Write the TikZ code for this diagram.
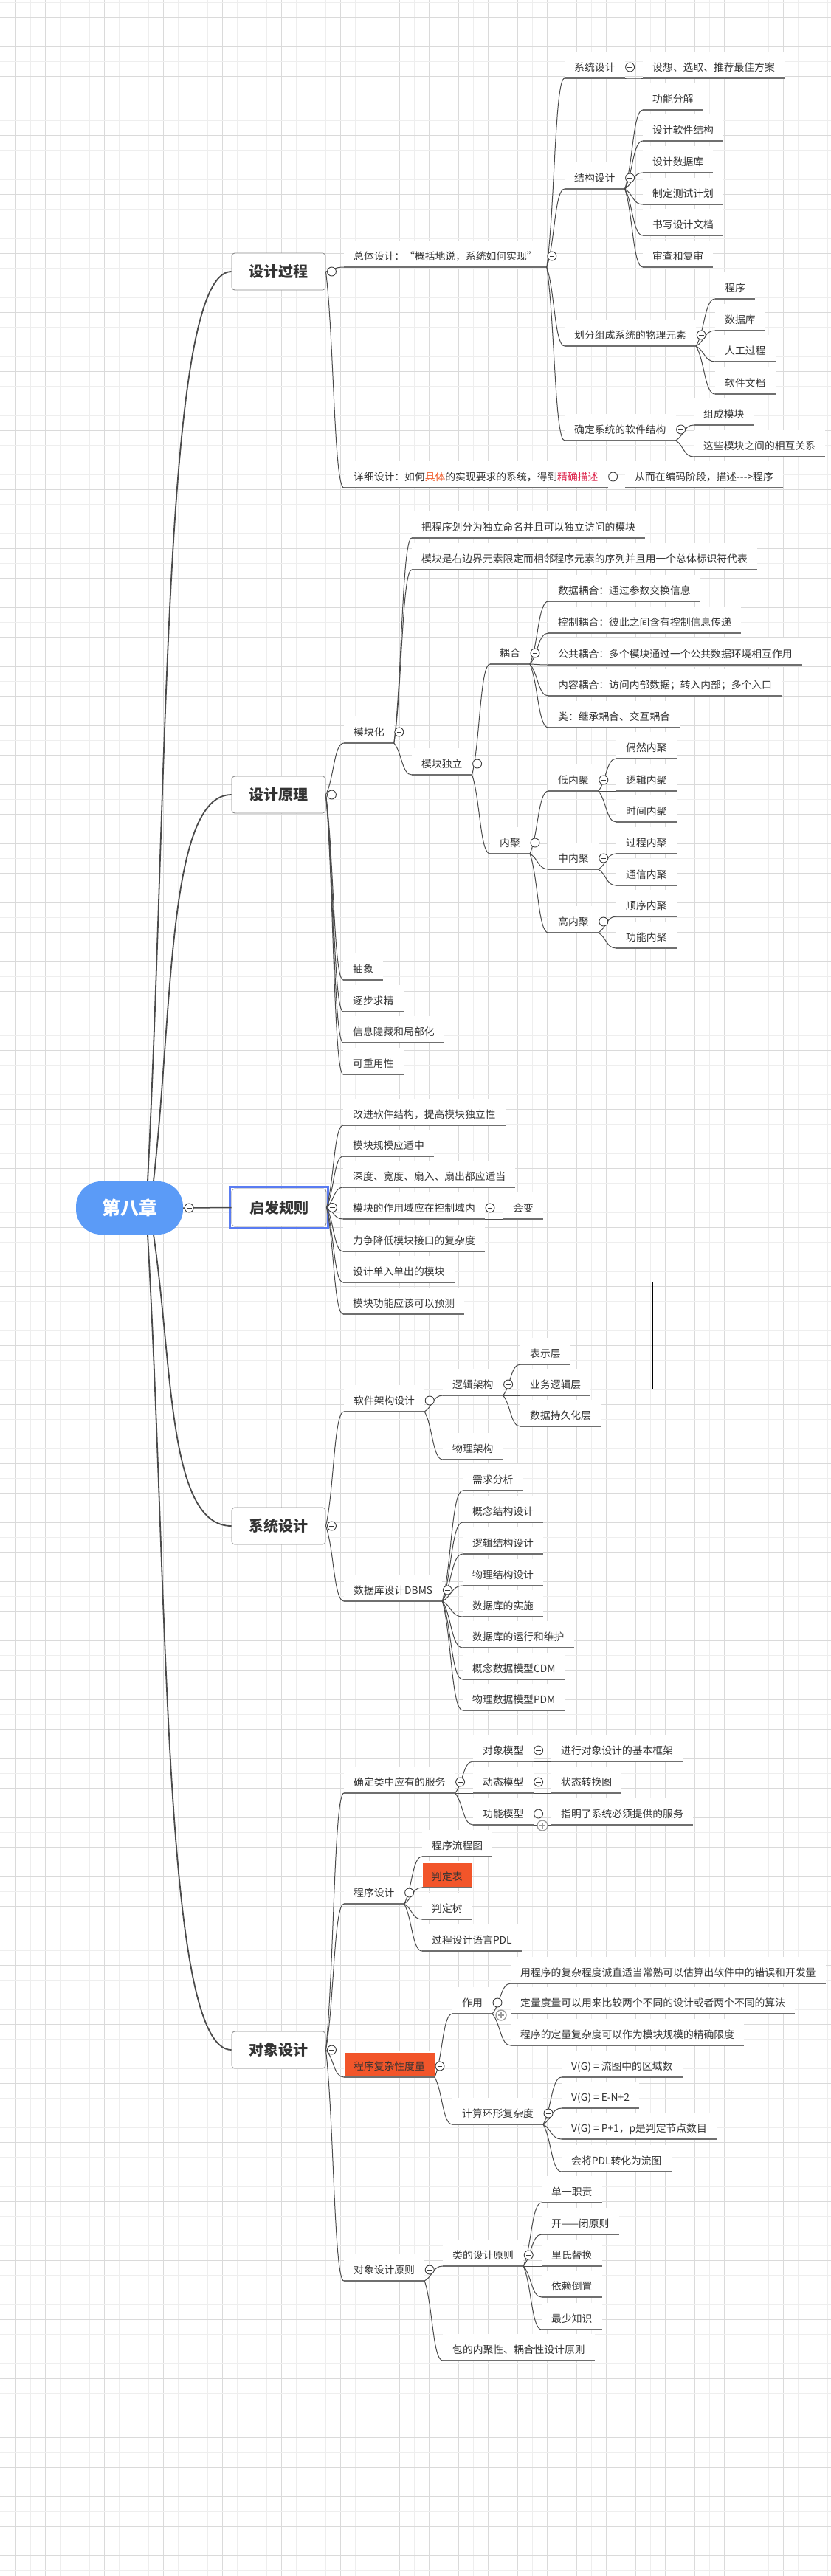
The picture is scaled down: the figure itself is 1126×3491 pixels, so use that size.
\documentclass[tikz,border=0pt]{standalone}
\usepackage{fontspec}
\setmainfont{Noto Sans CJK SC}
\usetikzlibrary{calc}
\pgfdeclarelayer{bg}
\pgfdeclarelayer{mid}
\pgfsetlayers{bg,mid,main}
\definecolor{txtc}{HTML}{333333}
\definecolor{ulc}{HTML}{6F6F6F}
\definecolor{connc}{HTML}{4A4A4A}
\definecolor{collc}{HTML}{3A3A3A}
\definecolor{boxc}{HTML}{8A8A8A}
\definecolor{rootc}{HTML}{5B9BF7}
\definecolor{selc}{HTML}{5A7CF2}
\definecolor{hlc}{HTML}{F2552A}
\definecolor{gridd}{HTML}{DADADA}
\definecolor{gridl}{HTML}{EEEEEE}
\definecolor{dashc}{HTML}{B5B5B5}
\definecolor{plusc}{HTML}{9A9A9A}
\definecolor{redA}{HTML}{F05A28}
\definecolor{redB}{HTML}{DC1E46}
\newcommand\fs{\fontsize{13.8pt}{16pt}\selectfont}
\newcommand\bfs{\fontsize{20pt}{24pt}\selectfont\bfseries}
\newcommand\rootfs{\fontsize{25pt}{30pt}\selectfont\bfseries}
\newcommand\mmnode[4]{%
  \node[stxt] (#1) at (#2,#3+5) {#4};
  \coordinate (#1L) at (#2-13,#3+15);
  \coordinate (#1R) at ($(#1.base east)+(13,10)$);
  \begin{pgfonlayer}{mid}\fill[white] ($(#1L)+(0,-36)$) rectangle (#1R);\end{pgfonlayer}
  \draw[sul] (#1L) -- (#1R);
}
\newcommand\mmconn[2]{\draw[sconn] let \p1=(#1), \p2=(#2) in (\p1) .. controls ({\x1+0.45*(\x2-\x1)},{\y1+0.3*(\y2-\y1)}) and ({\x1+0.45*(\x2-\x1)},\y2) .. (\p2);}
\newcommand\mmconns[2]{\foreach \mmc in {#2}{\mmconn{#1}{\mmc L}}}
\newcommand\mmroot[2]{\draw[srootconn] let \p1=(#1), \p2=(#2) in (\p1) .. controls ({\x1+0.25*(\x2-\x1)},{\y1+0.45*(\y2-\y1)}) and ({\x1+0.18*(\x2-\x1)},\y2) .. (\p2);}
\newcommand\mmcoll[1]{\node[scoll] (#1C) at ($(#1R)+(7,-15)$) {};}
\begin{document}
\begin{tikzpicture}[x=1pt,y=-1pt,
  stxt/.style={inner sep=0pt, anchor=base west, font=\fs, text=txtc},
  sul/.style={draw=ulc, line width=1.1pt},
  sconn/.style={draw=connc, line width=1pt},
  srootconn/.style={draw=connc, line width=1.8pt},
  scoll/.style={circle, draw=collc, fill=white, line width=0.9pt, minimum size=12pt, inner sep=0pt,
     path picture={\draw[collc,line width=0.9pt] ([xshift=-3.3pt]path picture bounding box.center) -- ([xshift=3.3pt]path picture bounding box.center);}},
  splus/.style={circle, draw=plusc, fill=white, line width=1.3pt, minimum size=14pt, inner sep=0pt,
     path picture={\draw[plusc,line width=1.3pt] ([xshift=-4pt]path picture bounding box.center) -- ([xshift=4pt]path picture bounding box.center) ([yshift=-4pt]path picture bounding box.center) -- ([yshift=4pt]path picture bounding box.center);}},
  sbox/.style={draw=boxc, fill=white, rounded corners=4pt, minimum width=127pt, minimum height=50pt, inner sep=0pt, font=\bfs, text=txtc, line width=0.9pt},
  sroot/.style={fill=rootc, rounded corners=34pt, minimum width=145pt, minimum height=72pt, inner sep=0pt, font=\rootfs, text=white},
]
\useasboundingbox (0,0) rectangle (1126,3491);
% background grid and page-break marks
\begin{pgfonlayer}{bg}
\fill[white] (0,0) rectangle (1126,3491);
\foreach \i in {0,...,28}{\draw[gridl,line width=1pt] ({1.7+40*\i},0) -- ({1.7+40*\i},3491);}
\foreach \i in {0,...,27}{\draw[gridd,line width=1pt] ({21.7+40*\i},0) -- ({21.7+40*\i},3491);}
\foreach \i in {0,...,87}{\draw[gridl,line width=1pt] (0,{3.3+40*\i}) -- (1126,{3.3+40*\i});}
\foreach \i in {0,...,86}{\draw[gridd,line width=1pt] (0,{23.3+40*\i}) -- (1126,{23.3+40*\i});}
\draw[dashc,line width=0.8pt,dash pattern=on 6pt off 4pt] (772,0) -- (772,3491);
\foreach \yy in {371,1215,2058,2901}{\draw[dashc,line width=0.8pt,dash pattern=on 6pt off 4pt] (0,\yy) -- (1126,\yy);}
\end{pgfonlayer}
\draw[black,line width=1pt] (884,1737) -- (884,1883);

% root and main topics
\node[sroot] (root) at (175.5,1637) {第八章};
\node[sbox] (b1) at (377.5,368) {设计过程};
\node[sbox] (b2) at (377.5,1077) {设计原理};
\node[sbox, minimum width=128pt, minimum height=51pt] (b3) at (378,1636.5) {启发规则};
\draw[selc,line width=2.6pt] ($(b3.south west)+(-2.2,2.2)$) rectangle ($(b3.north east)+(2.2,-2.2)$);
\node[sbox] (b4) at (377.5,2068) {系统设计};
\node[sbox] (b5) at (377.5,2778) {对象设计};
\coordinate (rt1) at ($(root.north)+(24.5,0)$);
\coordinate (rt2) at ($(root.north)+(32.5,0)$);
\coordinate (rb1) at ($(root.south)+(24.5,0)$);
\coordinate (rb2) at ($(root.south)+(32.5,0)$);

% ---- 设计过程
\mmnode{a1}{479}{347}{总体设计：“概括地说，系统如何实现”}
\mmnode{a11}{778}{91}{系统设计}
\mmnode{a111}{884}{91}{设想、选取、推荐最佳方案}
\mmnode{a12}{778}{241}{结构设计}
\mmnode{a121}{884}{134}{功能分解}
\mmnode{a122}{884}{176}{设计软件结构}
\mmnode{a123}{884}{219}{设计数据库}
\mmnode{a124}{884}{262}{制定测试计划}
\mmnode{a125}{884}{304}{书写设计文档}
\mmnode{a126}{884}{347}{审查和复审}
\mmnode{a13}{778}{454}{划分组成系统的物理元素}
\mmnode{a131}{982}{390}{程序}
\mmnode{a132}{982}{433}{数据库}
\mmnode{a133}{982}{475}{人工过程}
\mmnode{a134}{982}{519}{软件文档}
\mmnode{a14}{778}{582}{确定系统的软件结构}
\mmnode{a141}{953}{561}{组成模块}
\mmnode{a142}{953}{604}{这些模块之间的相互关系}
\mmnode{a2}{479}{646}{详细设计：如何{\color{redA}具体}的实现要求的系统，得到{\color{redB}精确描述}}
\mmnode{a21}{860}{646}{从而在编码阶段，描述-{}-{}-{}>程序}

% ---- 设计原理
\mmnode{c1}{479}{992}{模块化}
\mmnode{c11}{571}{714}{把程序划分为独立命名并且可以独立访问的模块}
\mmnode{c12}{571}{757}{模块是右边界元素限定而相邻程序元素的序列并且用一个总体标识符代表}
\mmnode{c13}{571}{1035}{模块独立}
\mmnode{c131}{677}{885}{耦合}
\mmnode{c1311}{756}{800}{数据耦合：通过参数交换信息}
\mmnode{c1312}{756}{843}{控制耦合：彼此之间含有控制信息传递}
\mmnode{c1313}{756}{886}{公共耦合：多个模块通过一个公共数据环境相互作用}
\mmnode{c1314}{756}{928}{内容耦合：访问内部数据；转入内部；多个入口}
\mmnode{c1315}{756}{971}{类：继承耦合、交互耦合}
\mmnode{c132}{677}{1142}{内聚}
\mmnode{c1321}{756}{1057}{低内聚}
\mmnode{x1}{848}{1013}{偶然内聚}
\mmnode{x2}{848}{1057}{逻辑内聚}
\mmnode{x3}{848}{1099}{时间内聚}
\mmnode{c1322}{756}{1163}{中内聚}
\mmnode{x4}{848}{1142}{过程内聚}
\mmnode{x5}{848}{1185}{通信内聚}
\mmnode{c1323}{756}{1249}{高内聚}
\mmnode{x6}{848}{1227}{顺序内聚}
\mmnode{x7}{848}{1270}{功能内聚}
\mmnode{c2}{478}{1313}{抽象}
\mmnode{c3}{478}{1356}{逐步求精}
\mmnode{c4}{478}{1398}{信息隐藏和局部化}
\mmnode{c5}{478}{1441}{可重用性}

% ---- 启发规则
\mmnode{d1}{478}{1510}{改进软件结构，提高模块独立性}
\mmnode{d2}{478}{1552}{模块规模应适中}
\mmnode{d3}{478}{1594}{深度、宽度、扇入、扇出都应适当}
\mmnode{d4}{478}{1637}{模块的作用域应在控制域内}
\mmnode{d41}{695}{1637}{会变}
\mmnode{d5}{478}{1681}{力争降低模块接口的复杂度}
\mmnode{d6}{478}{1723}{设计单入单出的模块}
\mmnode{d7}{478}{1766}{模块功能应该可以预测}

% ---- 系统设计
\mmnode{e1}{479}{1898}{软件架构设计}
\mmnode{e11}{613}{1876}{逻辑架构}
\mmnode{e111}{718}{1834}{表示层}
\mmnode{e112}{718}{1876}{业务逻辑层}
\mmnode{e113}{718}{1918}{数据持久化层}
\mmnode{e12}{613}{1963}{物理架构}
\mmnode{e2}{479}{2155}{数据库设计DBMS}
\mmnode{e21}{640}{2005}{需求分析}
\mmnode{e22}{640}{2048}{概念结构设计}
\mmnode{e23}{640}{2091}{逻辑结构设计}
\mmnode{e24}{640}{2134}{物理结构设计}
\mmnode{e25}{640}{2176}{数据库的实施}
\mmnode{e26}{640}{2218}{数据库的运行和维护}
\mmnode{e27}{640}{2261}{概念数据模型CDM}
\mmnode{e28}{640}{2303}{物理数据模型PDM}

% ---- 对象设计
\mmnode{f1}{479}{2415}{确定类中应有的服务}
\mmnode{f11}{654}{2372}{对象模型}
\mmnode{f111}{760}{2372}{进行对象设计的基本框架}
\mmnode{f12}{654}{2415}{动态模型}
\mmnode{f121}{760}{2415}{状态转换图}
\mmnode{f13}{654}{2458}{功能模型}
\mmnode{f131}{760}{2458}{指明了系统必须提供的服务}
\mmnode{f2}{479}{2565}{程序设计}
\mmnode{f21}{585}{2501}{程序流程图}
\mmnode{f22}{585}{2543}{判定表}
\mmnode{f23}{585}{2586}{判定树}
\mmnode{f24}{585}{2629}{过程设计语言PDL}
\mmnode{f3}{479}{2800}{程序复杂性度量}
\mmnode{f31}{626}{2714}{作用}
\mmnode{f311}{705}{2673}{用程序的复杂程度诚直适当常熟可以估算出软件中的错误和开发量}
\mmnode{f312}{705}{2714}{定量度量可以用来比较两个不同的设计或者两个不同的算法}
\mmnode{f313}{705}{2757}{程序的定量复杂度可以作为模块规模的精确限度}
\mmnode{f32}{626}{2864}{计算环形复杂度}
\mmnode{f321}{774}{2800}{V(G) = 流图中的区域数}
\mmnode{f322}{774}{2842}{V(G) = E-N+2}
\mmnode{f323}{774}{2884}{V(G) = P+1，p是判定节点数目}
\mmnode{f324}{774}{2928}{会将PDL转化为流图}
\mmnode{f4}{479}{3076}{对象设计原则}
\mmnode{f41}{613}{3056}{类的设计原则}
\mmnode{f411}{747}{2970}{单一职责}
\mmnode{f412}{747}{3013}{开——闭原则}
\mmnode{f413}{747}{3056}{里氏替换}
\mmnode{f414}{747}{3098}{依赖倒置}
\mmnode{f415}{747}{3142}{最少知识}
\mmnode{f42}{613}{3184}{包的内聚性、耦合性设计原则}

% highlighted topics
\begin{pgfonlayer}{mid}
\fill[hlc] ($(f22L)+(0.5,-33)$) rectangle ($(f22R)+(-0.5,0)$);
\fill[hlc] ($(f3L)+(0.5,-33)$) rectangle ($(f3R)+(-0.5,0)$);
\end{pgfonlayer}

% ---- connectors
\mmroot{rt1}{b1.west}
\mmroot{rt2}{b2.west}
\mmroot{rb2}{b4.west}
\mmroot{rb1}{b5.west}
\draw[connc,line width=1.5pt] (root.east) -- (b3.west);

\mmconns{b1.east}{a1,a2}
\mmconns{a1R}{a11,a12,a13,a14}
\mmconns{a11R}{a111}
\mmconns{a12R}{a121,a122,a123,a124,a125,a126}
\mmconns{a13R}{a131,a132,a133,a134}
\mmconns{a14R}{a141,a142}
\mmconns{a2R}{a21}

\mmconns{b2.east}{c1,c2,c3,c4,c5}
\mmconns{c1R}{c11,c12,c13}
\mmconns{c13R}{c131,c132}
\mmconns{c131R}{c1311,c1312,c1313,c1314,c1315}
\mmconns{c132R}{c1321,c1322,c1323}
\mmconns{c1321R}{x1,x2,x3}
\mmconns{c1322R}{x4,x5}
\mmconns{c1323R}{x6,x7}

\mmconns{b3.east}{d1,d2,d3,d4,d5,d6,d7}
\mmconns{d4R}{d41}

\mmconns{b4.east}{e1,e2}
\mmconns{e1R}{e11,e12}
\mmconns{e11R}{e111,e112,e113}
\mmconns{e2R}{e21,e22,e23,e24,e25,e26,e27,e28}

\mmconns{b5.east}{f1,f2,f3,f4}
\mmconns{f1R}{f11,f12,f13}
\mmconns{f11R}{f111}
\mmconns{f12R}{f121}
\mmconns{f13R}{f131}
\mmconns{f2R}{f21,f22,f23,f24}
\mmconns{f3R}{f31,f32}
\mmconns{f31R}{f311,f312,f313}
\mmconns{f32R}{f321,f322,f323,f324}
\mmconns{f4R}{f41,f42}
\mmconns{f41R}{f411,f412,f413,f414,f415}

% ---- collapse buttons
\node[scoll] (rootC) at ($(root.east)+(8,0)$) {};
\foreach \bb in {b1,b2,b3,b4,b5}{\node[scoll] (\bb C) at ($(\bb.east)+(8,0)$) {};}
\foreach \nn in {a1,a11,a12,a13,a14,a2,c1,c13,c131,c132,c1321,c1322,c1323,d4,e1,e11,e2,f1,f11,f12,f13,f2,f3,f31,f32,f4,f41}{\mmcoll{\nn}}
\node[splus] (plus1) at (735,2474) {};
\node[splus] (plus2) at (679,2731) {};
\end{tikzpicture}
\end{document}
